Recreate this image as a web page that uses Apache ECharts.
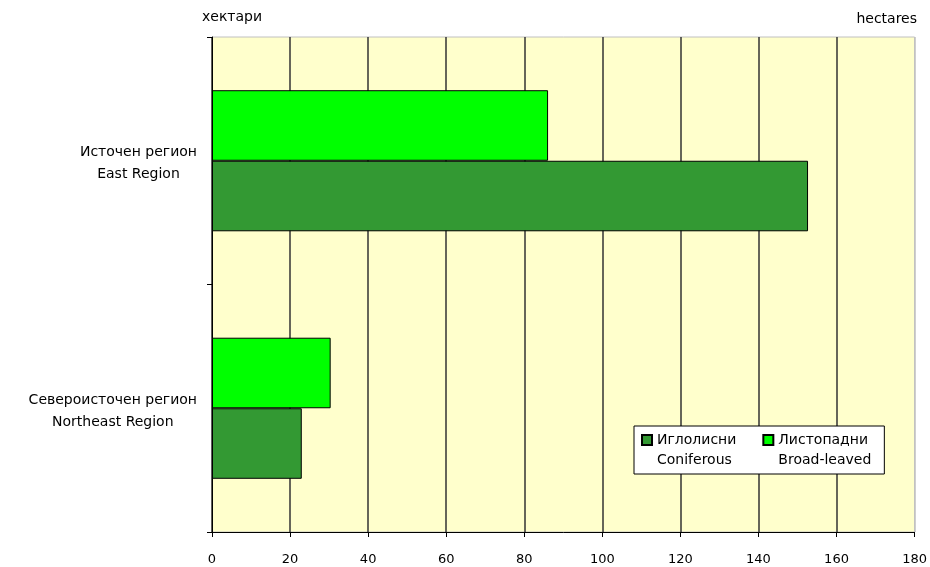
<!DOCTYPE html>
<html><head><meta charset="utf-8">
<script src="https://cdn.jsdelivr.net/npm/echarts@6/dist/echarts.min.js"></script>
<style>html,body{margin:0;padding:0;background:#fff}#c{width:930px;height:567px}</style>
</head><body><div id="c"></div>
<script>
const categories = ['Источен регион\nEast Region', 'Североисточен регион\nNortheast Region'];
const seriesNames = ['Иглолисни\nConiferous', 'Листопадни\nBroad-leaved'];
const coniferous = [152.7, 23.0];
const broadLeaved = [86.1, 30.4];
const xTicks = {min: 0, max: 180, interval: 20};
const unitLeft = 'хектари';
const unitRight = 'hectares';

const FONT = 'DejaVu Sans';
const gridLineColors = ['#333', '#333', '#333', '#333', '#333', '#333', '#333', '#333', '#333', '#c0c0c0'];
const chart = echarts.init(document.getElementById('c'), null, {renderer: 'canvas'});
chart.setOption({
  animation: false,
  backgroundColor: '#fff',
  title: [
    {text: unitLeft, left: 197, top: 5, textStyle: {fontFamily: FONT, fontSize: 14, fontWeight: 'normal', color: '#000'}},
    {text: unitRight, right: 8, top: 7, textStyle: {fontFamily: FONT, fontSize: 14, fontWeight: 'normal', color: '#000'}}
  ],
  grid: {left: 212, right: 12, top: 37, bottom: 35, show: true, backgroundColor: '#FFFFCC', borderColor: '#c0c0c0', borderWidth: 1},
  legend: {
    left: 634, top: 426, orient: 'horizontal',
    data: seriesNames,
    backgroundColor: '#fff', borderColor: '#000', borderWidth: 1,
    padding: [4, 13, 4, 7], itemGap: 26,
    itemWidth: 10, itemHeight: 30,
    icon: 'path://M0,0L10,0L10,10L0,10Z M0,30',
    textStyle: {fontFamily: FONT, fontSize: 14, color: '#000', lineHeight: 20}
  },
  xAxis: {
    type: 'value', min: xTicks.min, max: xTicks.max, interval: xTicks.interval,
    axisLine: {show: true, lineStyle: {color: '#000', width: 1}},
    axisTick: {show: true, length: 5, lineStyle: {color: '#000'}},
    axisLabel: {margin: 21, fontFamily: FONT, fontSize: 13, color: '#000'},
    splitLine: {show: true, lineStyle: {color: gridLineColors, width: 1.5}}
  },
  yAxis: {
    type: 'category', data: categories, inverse: true,
    axisLine: {show: true, lineStyle: {color: '#000', width: 1}},
    axisTick: {show: true, length: 5, lineStyle: {color: '#000'}},
    splitLine: {show: false},
    axisLabel: {
      margin: 15, align: 'right', fontFamily: FONT, fontSize: 14, color: '#000', lineHeight: 22,
      padding: [6, 0, 0, 0],
      formatter: v => v.split('\n').map(s => '{c|' + s + '}').join('\n'),
      rich: {c: {align: 'center', fontFamily: FONT, fontSize: 14, lineHeight: 22, color: '#000'}}
    }
  },
  series: [
    {name: seriesNames[1], type: 'bar', data: broadLeaved, barGap: '0%', barCategoryGap: '43%',
     itemStyle: {color: '#00FF00', borderColor: '#000', borderWidth: 1}},
    {name: seriesNames[0], type: 'bar', data: coniferous, barGap: '0%', barCategoryGap: '43%',
     itemStyle: {color: '#339933', borderColor: '#000', borderWidth: 1}}
  ]
});
</script></body></html>
